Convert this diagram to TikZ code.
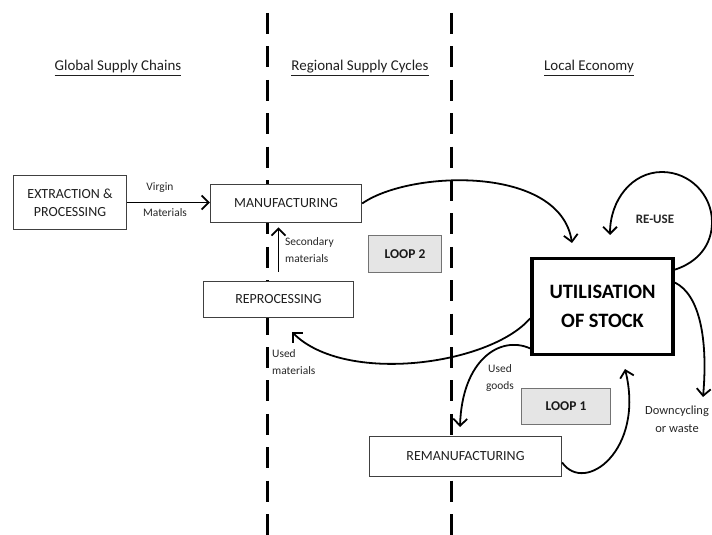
\documentclass[tikz,border=0pt]{standalone}
\usepackage{fontspec}
\setmainfont{Carlito}
\usetikzlibrary{arrows.meta}

\begin{document}
\begin{tikzpicture}[x=1bp,y=-1bp,
  box/.style={draw=black!75,line width=0.9pt,fill=white,text=black!88,inner sep=0pt,align=center,font=\fontsize{14}{18}\selectfont},
  loopbox/.style={draw=black!55,line width=0.9pt,fill=black!10,text=black!90,inner sep=0pt,font=\bfseries\fontsize{13.5}{16}\selectfont},
  heading/.style={text=black!88,font=\fontsize{15}{18}\selectfont},
  lbl/.style={text=black!85,inner sep=0pt,font=\fontsize{11.5}{16.5}\selectfont},
  divider/.style={line width=3bp,dash pattern=on 21bp off 12.4bp},
  flow/.style={line width=1.8pt,-{Straight Barb[length=7pt,width=14pt]}}]
\useasboundingbox (0,0) rectangle (712,535);

\draw[divider] (267,13)--(267,535);
\draw[divider] (451,13)--(451,535);

\node[heading] (hglobal) at (118,68) {\underline{Global Supply Chains}};
\node[heading] (hregion) at (360,68) {\underline{Regional Supply Cycles}};
\node[heading] (hlocal) at (589,68) {\underline{Local Economy}};

\node[box,minimum width=114,minimum height=55] (extr) at (70,202.5) {EXTRACTION \&\\PROCESSING};
\node[box,minimum width=152,minimum height=39] (manu) at (286,203.5) {MANUFACTURING};
\node[box,minimum width=151,minimum height=37] (repro) at (278.5,299.5) {REPROCESSING};
\node[box,minimum width=193,minimum height=41] (reman) at (465.5,456.5) {REMANUFACTURING};
\node[loopbox,minimum width=74,minimum height=38] (loop2) at (405,254) {LOOP 2};
\node[loopbox,minimum width=90,minimum height=37] (loop1) at (566,406.5) {LOOP 1};
\node[box,draw=black,line width=3.5bp,minimum width=142,minimum height=96,text=black,font=\bfseries\fontsize{20.5}{29}\selectfont] (util) at (602.5,306.5) {UTILISATION\\OF STOCK};

\coordinate (stockin) at (572,243);
\coordinate (reprin) at (292,332);
\coordinate (remanin) at (460,427);
\coordinate (stockup) at (625,369);
\coordinate (reusein) at (610,235);
\coordinate (wasteout) at (703,397);

\draw[flow] (extr.east) -- (extr.east -| manu.west);
\draw[flow,shorten <=9pt,shorten >=4pt] (repro.north) -- (repro.north |- manu.south);
\draw[flow] (manu.east) .. controls (410,170) and (560,165) .. (stockin);
\draw[flow] ([yshift=-12]util.west) .. controls (490,365) and (345,385) .. (reprin);
\draw[flow] ([yshift=-42]util.west) .. controls (500,335) and (462,360) .. (remanin);
\draw[flow] ([yshift=-6]reman.east) .. controls (585,495) and (645,450) .. (stockup);
\draw[flow] ([yshift=37]util.east) .. controls (698,262) and (712,245) .. (712,222)
  .. controls (712,195) and (690,172) .. (662,172)
  .. controls (632,172) and (610,200) .. (reusein);
\draw[flow] ([yshift=24]util.east) .. controls (700,295) and (708,340) .. (wasteout);

\node[lbl] (virgin) at (160,188) {Virgin};
\node[lbl] (materials) at (165,213) {Materials};
\node[lbl,anchor=west,align=left] (second) at (285,250) {Secondary\\materials};
\node[lbl,anchor=west,align=left] (usedmat) at (272,362) {Used\\materials};
\node[lbl,align=center] (usedgoods) at (500,378) {Used\\goods};
\node[lbl,font=\bfseries\fontsize{13}{16}\selectfont] (reuse) at (655,219) {RE-USE};
\node[lbl,align=center,font=\fontsize{12.5}{18}\selectfont] (waste) at (677,419) {Downcycling\\or waste};
\end{tikzpicture}
\end{document}
